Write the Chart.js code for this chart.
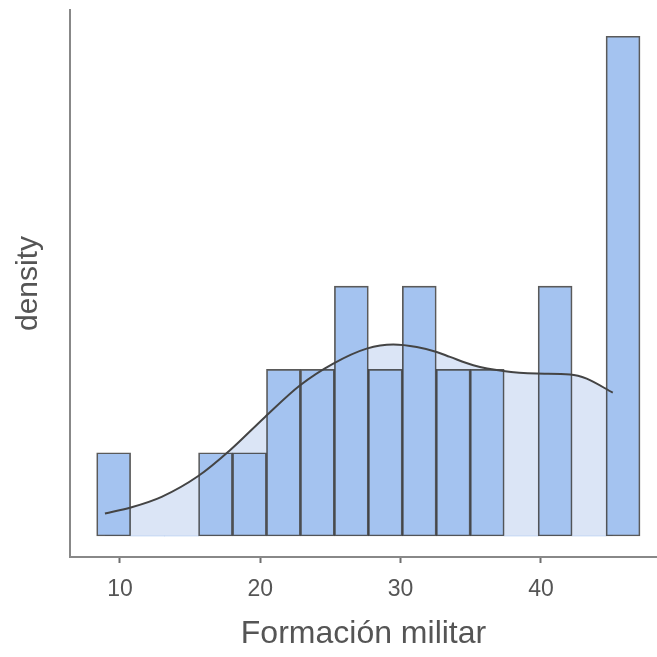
<!DOCTYPE html>
<html>
<head>
<meta charset="utf-8">
<script src="https://cdn.jsdelivr.net/npm/chart.js@4"></script>
<style>
  html, body { margin: 0; padding: 0; background: #fff; }
  #wrap { width: 657px; height: 657px; }
</style>
</head>
<body>
<div id="wrap"><canvas id="myChart"></canvas></div>
<script>
// histogram bins (centres) and counts
const binCenters = [9.55, 11.97, 14.39, 16.81, 19.23, 21.65, 24.07, 26.49, 28.91, 31.33, 33.75, 36.17, 38.59, 41.01, 43.43, 45.85]
const binCounts = [1, 0, 0, 1, 1, 2, 2, 3, 2, 3, 2, 2, 0, 3, 0, 6]

// density curve, scaled to counts
const densX = [8.93, 10.83, 12.97, 15.58, 17.84, 20.34, 22.84, 25.20, 27.58, 29.48, 31.15, 32.57, 33.52, 35.18, 37.32, 39.70, 42.07, 43.26, 45.12]
const densY = [0.27, 0.345, 0.47, 0.72, 1.03, 1.43, 1.81, 2.07, 2.25, 2.30, 2.27, 2.21, 2.15, 2.05, 1.98, 1.95, 1.94, 1.89, 1.72]

const xTicks = [10, 20, 30, 40]

const bars = binCenters.map((x, i) => ({ x: x, y: binCounts[i] }))
const curve = densX.map((x, i) => ({ x: x, y: densY[i] }))

const font = "'Liberation Sans', Arial, sans-serif"
const ctx = document.getElementById('myChart')

new Chart(ctx, {
    data: {
        datasets: [
            {
                // shaded area under the density, behind the bars
                type: 'line',
                data: curve,
                borderWidth: 0,
                pointRadius: 0,
                cubicInterpolationMode: 'monotone',
                fill: 'origin',
                backgroundColor: '#dbe5f6',
                order: 3
            },
            {
                type: 'bar',
                data: bars,
                backgroundColor: '#a4c3f0',
                borderColor: 'rgba(35, 35, 35, 0.75)',
                borderWidth: c => (c.raw && c.raw.y > 0 ? 1.7 : 0),
                borderSkipped: false,
                barPercentage: 1,
                categoryPercentage: 1,
                order: 2
            },
            {
                // density outline on top
                type: 'line',
                data: curve,
                borderColor: '#444',
                borderWidth: 2,
                pointRadius: 0,
                cubicInterpolationMode: 'monotone',
                fill: false,
                order: 1
            }
        ]
    },
    options: {
        responsive: true,
        maintainAspectRatio: false,
        animation: false,
        layout: { padding: { top: 10, right: 0, left: 0, bottom: 0 } },
        plugins: {
            legend: { display: false },
            tooltip: { enabled: false }
        },
        scales: {
            x: {
                type: 'linear',
                offset: false,
                min: 6.44,
                max: 48.27,
                afterFit: s => { s.height = 100 },
                afterBuildTicks: s => { s.ticks = xTicks.map(v => ({ value: v })) },
                ticks: {
                    includeBounds: false,
                    color: '#555',
                    font: { family: font, size: 23 },
                    padding: 13
                },
                grid: {
                    offset: false,
                    drawOnChartArea: false,
                    drawTicks: true,
                    tickLength: 6,
                    tickWidth: 2,
                    tickColor: '#6e6e6e'
                },
                border: { display: true, color: '#888', width: 2 },
                title: {
                    display: true,
                    text: 'Formación militar',
                    color: '#555',
                    font: { family: font, size: 32 },
                    padding: { top: 8 }
                }
            },
            y: {
                min: -0.252,
                max: 6.315,
                afterFit: s => { s.width = 70 },
                ticks: { display: false },
                grid: { display: false },
                border: { display: true, color: '#888', width: 2 },
                title: {
                    display: true,
                    text: 'density',
                    color: '#555',
                    font: { family: font, size: 30 },
                    padding: { top: 11 }
                }
            }
        }
    }
})
</script>
</body>
</html>
